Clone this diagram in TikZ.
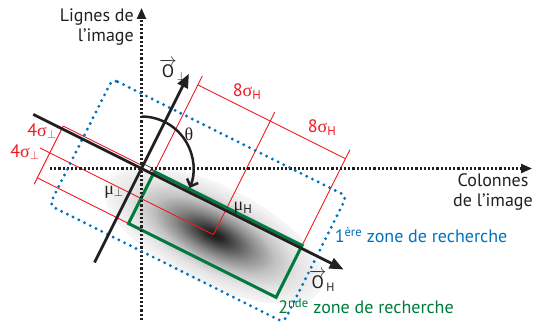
\documentclass[tikz,border=0pt]{standalone}
\usepackage{fontspec}
\setmainfont{PT Sans}
\newfontfamily\grk{Liberation Serif}
\usetikzlibrary{arrows.meta}
\definecolor{zblue}{RGB}{0,114,188}
\definecolor{zgreen}{RGB}{0,122,61}
\definecolor{zred}{RGB}{237,28,36}
\definecolor{ztext}{RGB}{35,31,32}
\pgfdeclareradialshading{gaussblob}{\pgfpoint{0bp}{0bp}}{color(0bp)=(black!90); color(2bp)=(black!84); color(5bp)=(black!68); color(9bp)=(black!46); color(14bp)=(black!24); color(19bp)=(black!11); color(24.5bp)=(black!4); color(25bp)=(white); color(50bp)=(white)}
\begin{document}
\begin{tikzpicture}[x=1pt,y=1pt,
  font=\fontsize{18}{20}\selectfont,
  axisline/.style={line width=2.2pt, dash pattern=on 2.2pt off 2pt, ztext, -{Triangle[length=11pt,width=9pt]}},
  bigarrow/.style={line width=2.8pt, ztext, -{Triangle[length=14pt,width=11pt]}},
  redline/.style={zred, line width=0.9pt},
  zoneone/.style={zblue, line width=3.2pt, dash pattern=on 0pt off 6.4pt, line cap=round, rounded corners=6pt},
  zonetwo/.style={zgreen, line width=3pt},
  thetaarc/.style={ztext, line width=2.5pt, -{Straight Barb[length=6pt,width=12pt]}},
  lbl/.style={ztext, inner sep=0pt},
  redlbl/.style={zred, inner sep=0pt},
  bluelbl/.style={zblue, inner sep=0pt},
  greenlbl/.style={zgreen, inner sep=0pt}]
\useasboundingbox (0,0) rectangle (533,-329);
\coordinate (O) at (141.5,-168.5);
% gaussian blob
\begin{scope}[transform canvas={shift={(141.5,-168.5)}, rotate=-26.565}]
  \shade[shading=gaussblob] (94,-27) ellipse [x radius=120, y radius=48];
  \draw[black!9, line width=0.4pt] (94,-27) ellipse [x radius=120, y radius=48];
\end{scope}
\begin{scope}[shift={(141.5,-168.5)}, rotate=-26.565]
  \coordinate (mu) at (94,-27);
  \coordinate (gTL) at (13,3);
  \coordinate (gTR) at (178,3);
  \coordinate (gBR) at (178,-55);
  \coordinate (gBL) at (13,-55);
  \coordinate (bTL) at (-66,67);
  \coordinate (bTR) at (196,67);
  \coordinate (bBR) at (196,-74);
  \coordinate (bBL) at (-66,-74);
  \coordinate (dL) at (13,100);
  \coordinate (dR) at (178,100);
  \coordinate (tL) at (13,110);
  \coordinate (tM) at (94,110);
  \coordinate (tR) at (178,110);
  \coordinate (lT) at (-89,3);
  \coordinate (lB) at (-89,-62);
  \coordinate (lBe) at (-89,-55);
  \coordinate (lM) at (-100,-27);
  \coordinate (hS) at (-121,0);
  \coordinate (hE) at (226,0);
  \coordinate (pS) at (0,-105);
  \coordinate (pE) at (0,106);
  \coordinate (sqA) at (9,0);
  \coordinate (sqB) at (9,5);
  \coordinate (sqC) at (0,5);
\end{scope}
% red dimension lines
\draw[redline] (gTL) -- (tL);
\draw[redline] (mu) -- (tM);
\draw[redline] (gTR) -- (tR);
\draw[redline] (dL) -- (dR);
\draw[redline] (lT) -- (gTL);
\draw[redline] (lM) -- (mu);
\draw[redline] (lBe) -- (gBL);
\draw[redline] (lT) -- (lB);
% second zone
\draw[zonetwo] (gTL) -- (gTR) -- (gBR) -- (gBL) -- cycle;
% axes
\coordinate (vS) at (141.5,-320);
\coordinate (vE) at (141.5,-8);
\coordinate (hAS) at (50,-168.5);
\coordinate (hAE) at (532,-168.5);
\draw[axisline] (vS) -- (vE);
\draw[axisline] (hAS) -- (hAE);
% first zone
\draw[zoneone] (bTL) -- (bTR) -- (bBR) -- (bBL) -- cycle;
% right angle mark
\draw[ztext, line width=0.6pt, fill=white] (O) -- (sqA) -- (sqB) -- (sqC) -- cycle;
% orientation axes
\draw[bigarrow] (hS) -- (hE);
\draw[bigarrow] (pS) -- (pE);
% theta arc
\draw[thetaarc] ([shift={(90:52)}]O) arc[start angle=90, end angle=-22, radius=52];
% labels
\node[lbl] (theta) at (189,-134) {\grk θ};
\node[lbl] (muperp) at (114,-192) {{\grk μ}$_\perp$};
\node[lbl] (muH) at (243,-208) {{\grk μ}\textsubscript{H}};
\node[lbl] (Operp) at (173,-70) {$\overrightarrow{\mbox{O}}_{\perp}$};
\node[lbl] (OH) at (322,-281) {$\overrightarrow{\mbox{O}}_{\mbox{\fontsize{12}{13}\selectfont H}}$};
\node[redlbl] (s1) at (247,-92) {8{\grk σ}\textsubscript{H}};
\node[redlbl] (s2) at (322,-128) {8{\grk σ}\textsubscript{H}};
\node[redlbl] (p1) at (42,-131) {4{\grk σ}$_\perp$};
\node[redlbl] (p2) at (25,-152) {4{\grk σ}$_\perp$};
\node[lbl, align=right, anchor=east] (lignes) at (134,-27) {Lignes de\\l'image};
\node[lbl, align=center] (colonnes) at (493,-192) {Colonnes\\de l'image};
\node[bluelbl] (zone1) at (421,-235) {1\textsuperscript{ère} zone de recherche};
\node[greenlbl] (zone2) at (366,-306) {2\textsuperscript{nde} zone de recherche};
\end{tikzpicture}
\end{document}
